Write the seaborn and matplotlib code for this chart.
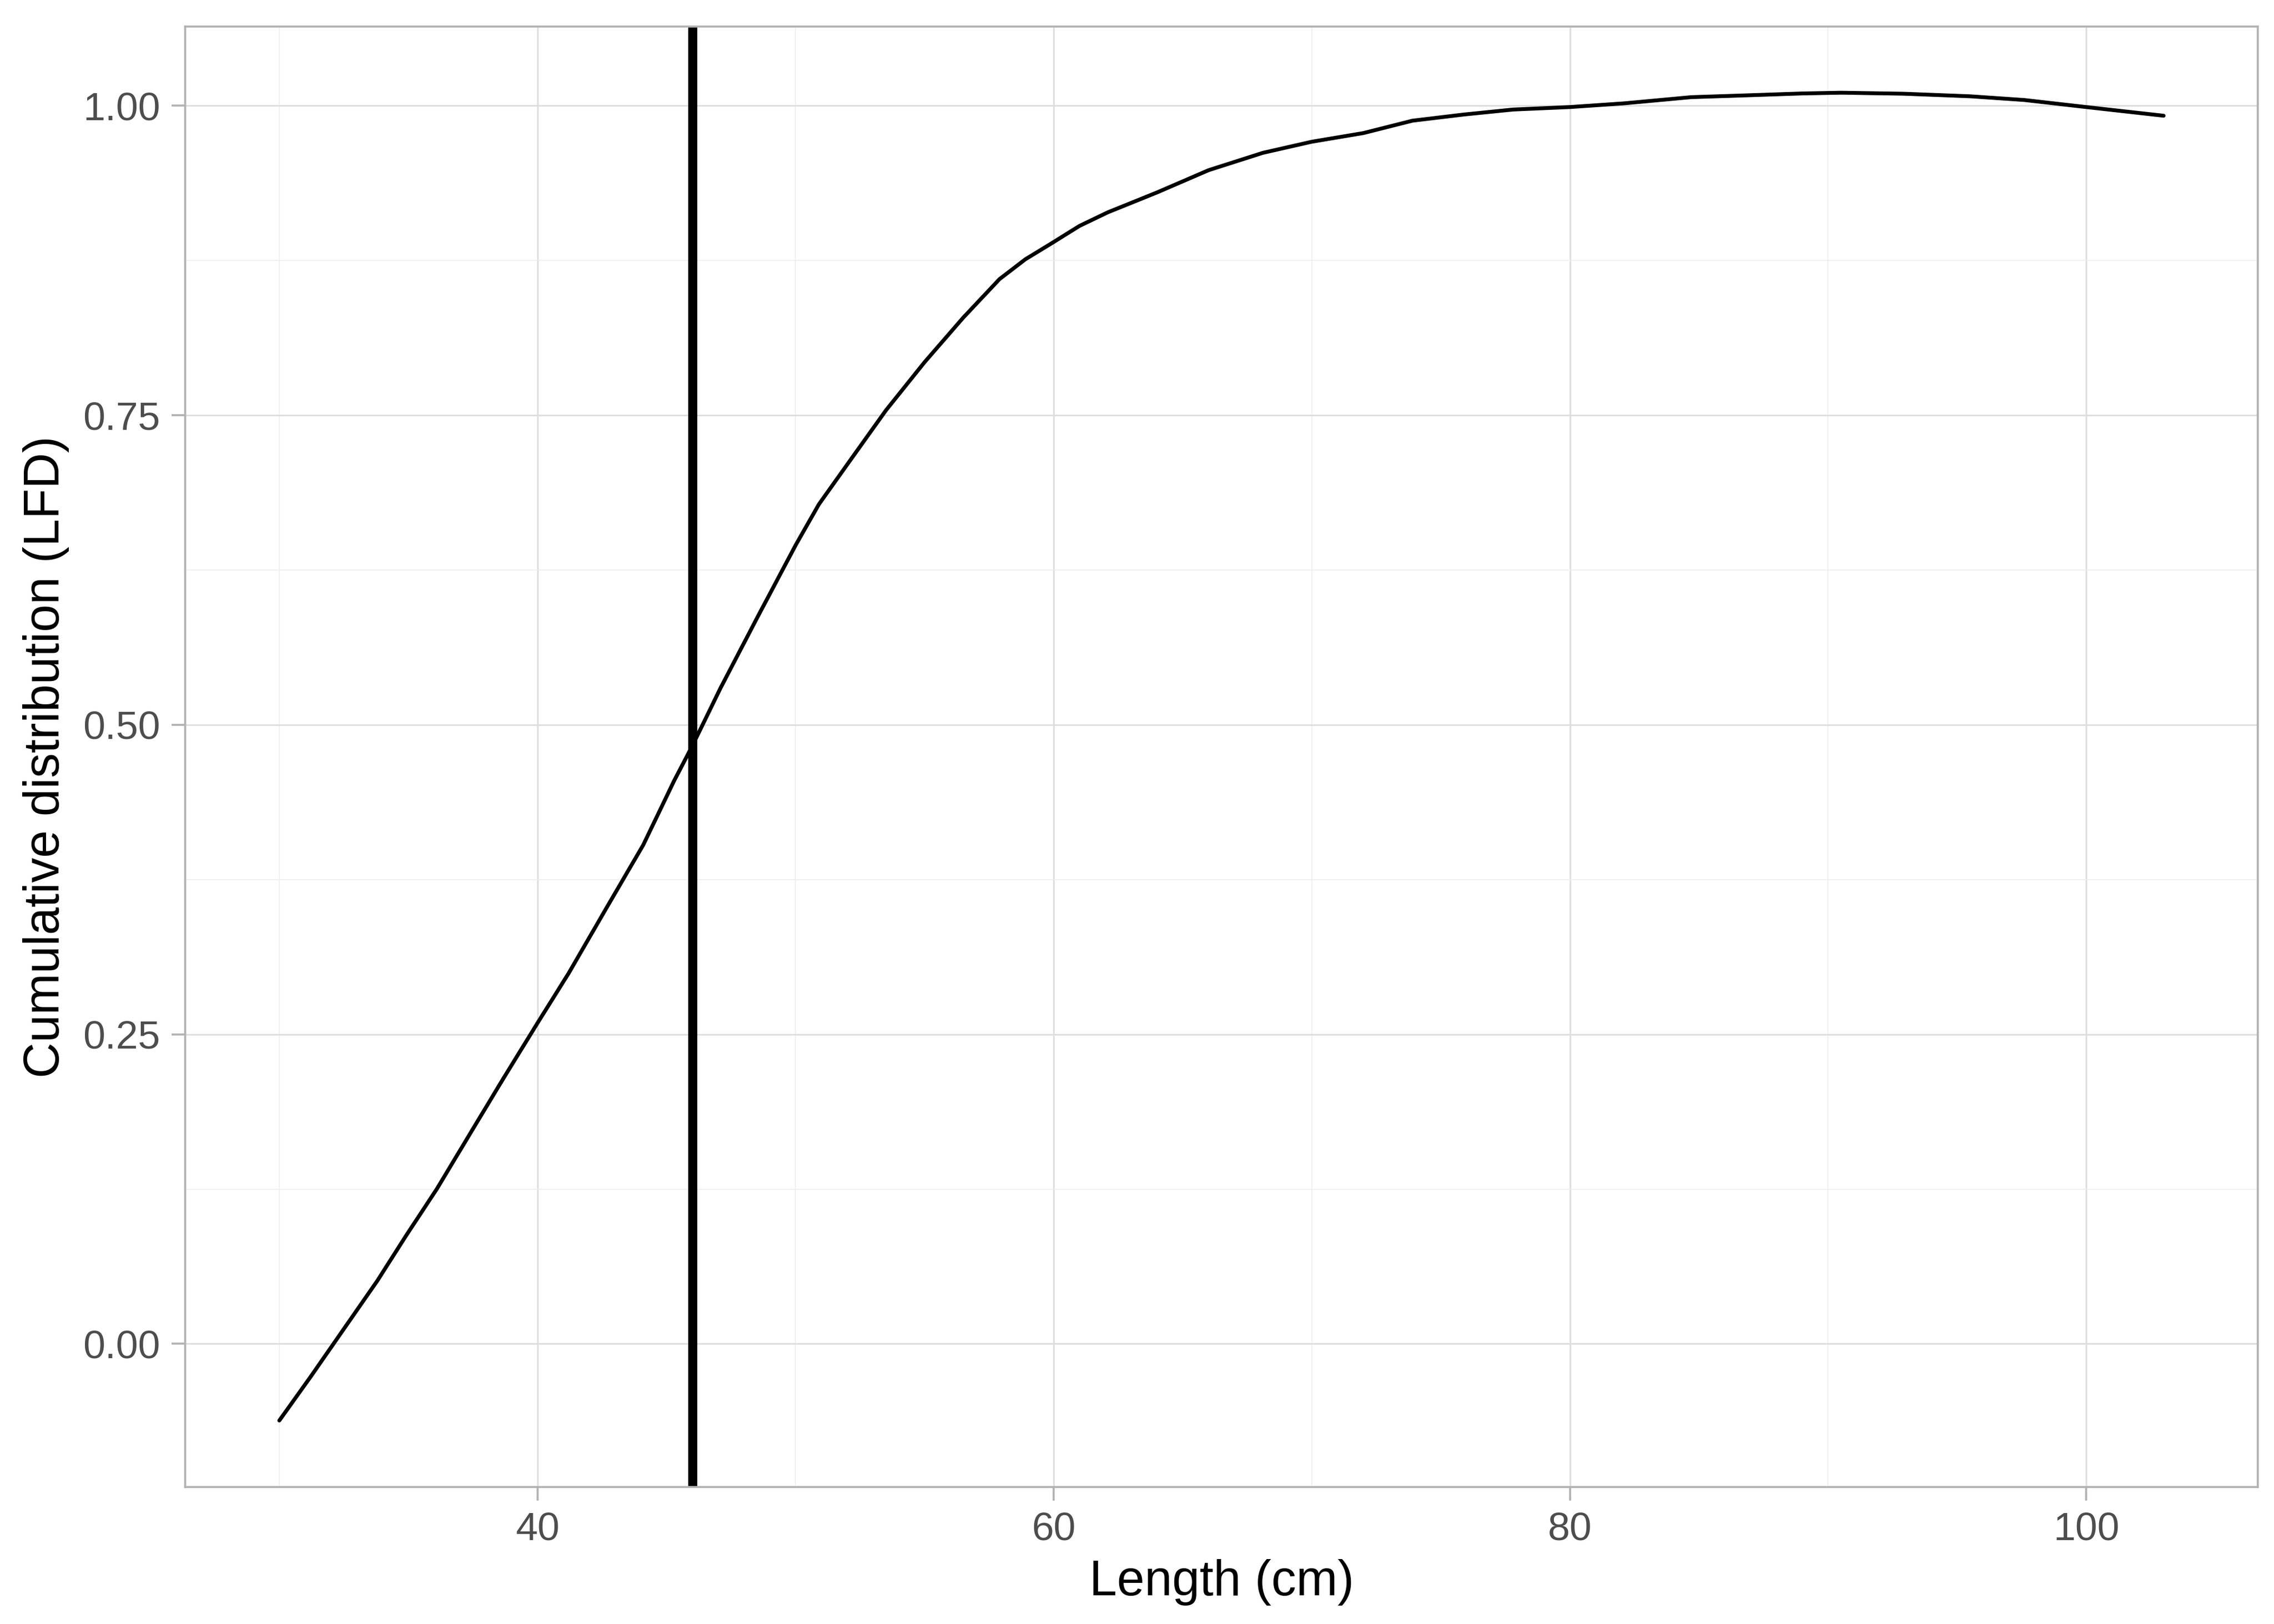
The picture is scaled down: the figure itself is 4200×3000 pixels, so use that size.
import numpy as np
import pandas as pd
import matplotlib
matplotlib.use("Agg")
import matplotlib.pyplot as plt
from matplotlib.ticker import MultipleLocator, FormatStrFormatter
import seaborn as sns

# curve (length in cm, cumulative LFD)
length_cm = [30, 31.2, 32.3, 33.8, 34.9, 36.1, 37.6, 38.7, 40, 41.2, 42.7, 44.1,
             45.3, 46, 47.1, 48.5, 50, 50.9, 52.3, 53.5, 55, 56.5, 57.9, 58.9,
             60, 61, 62.1, 64, 66, 68.1, 70, 72, 73.9, 75.9, 77.8, 80, 82.1,
             84.7, 86.9, 89, 90.5, 92.9, 95.5, 97.6, 100, 103]
cum_lfd = [-0.062, -0.027, 0.006, 0.051, 0.087, 0.125, 0.177, 0.215, 0.259,
           0.299, 0.353, 0.403, 0.455, 0.483, 0.53, 0.586, 0.645, 0.678, 0.719,
           0.754, 0.793, 0.829, 0.86, 0.876, 0.89, 0.903, 0.914, 0.93, 0.948,
           0.962, 0.971, 0.978, 0.988, 0.993, 0.997, 0.999, 1.002, 1.007,
           1.0085, 1.010, 1.0106, 1.0098, 1.0077, 1.0047, 0.999, 0.992]
cutoff_length = 46

df = pd.DataFrame({"length": length_cm, "cum": cum_lfd})

sns.set_theme(style="whitegrid")
plt.rcParams['font.family'] = ['Liberation Sans', 'DejaVu Sans']

fig, ax = plt.subplots(figsize=(14, 10), dpi=300)
fig.subplots_adjust(left=0.0814, right=0.9929, top=0.9838, bottom=0.0844)

sns.lineplot(data=df, x="length", y="cum", color="black", linewidth=1.7, ax=ax)
ax.axvline(cutoff_length, color="black", linewidth=4)

# ggplot style expansion of 5%
xr = max(length_cm) - min(length_cm)
yr = max(cum_lfd) - min(cum_lfd)
ax.set_xlim(min(length_cm) - 0.05 * xr, max(length_cm) + 0.05 * xr)
ax.set_ylim(min(cum_lfd) - 0.05 * yr, max(cum_lfd) + 0.05 * yr)

ax.xaxis.set_major_locator(MultipleLocator(20))
ax.xaxis.set_minor_locator(MultipleLocator(10))
ax.yaxis.set_major_locator(MultipleLocator(0.25))
ax.yaxis.set_minor_locator(MultipleLocator(0.125))
ax.yaxis.set_major_formatter(FormatStrFormatter("%.2f"))

ax.grid(which="major", color="#DEDEDE", linewidth=0.7)
ax.grid(which="minor", color="#EDEDED", linewidth=0.4)
ax.set_axisbelow(True)
for s in ax.spines.values():
    s.set_visible(True)
    s.set_color("#B3B3B3")
    s.set_linewidth(0.9)

ax.tick_params(which="major", length=6, width=0.9, color="#B3B3B3",
               labelsize=17.6, labelcolor="#4D4D4D", pad=5, bottom=True, left=True)
ax.tick_params(which="minor", length=0)

ax.set_xlabel("Length (cm)", fontsize=22, color="black", labelpad=5)
ax.set_ylabel("Cumulative distribution (LFD)", fontsize=22, color="black", labelpad=6)

fig.savefig("out.png", dpi=300, facecolor="white")
